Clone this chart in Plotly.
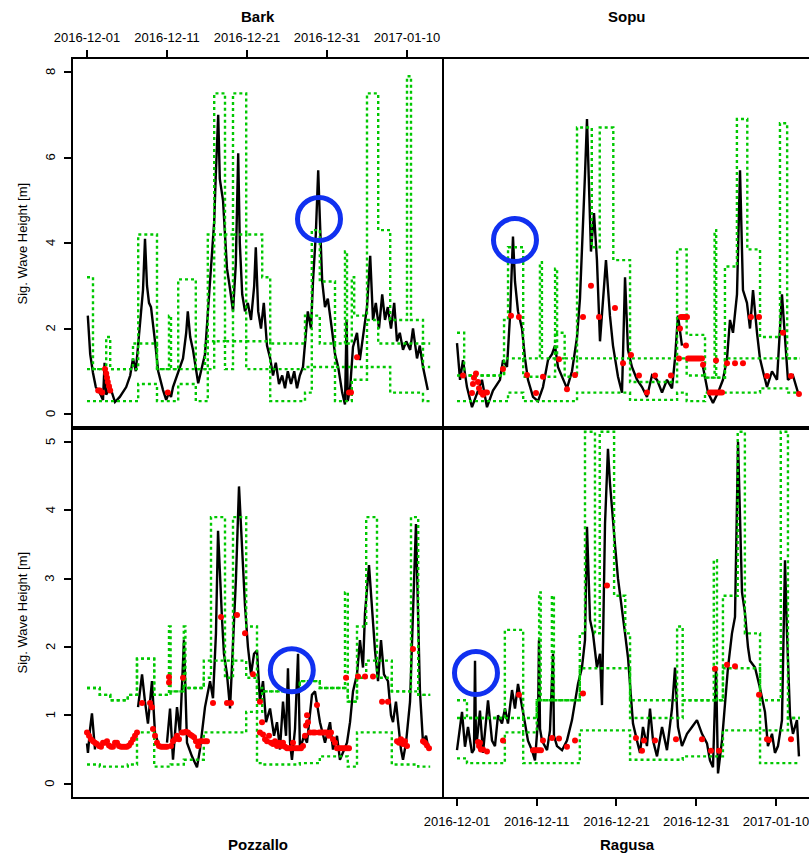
import pandas as pd
import plotly.graph_objects as go

BASE = pd.Timestamp("2016-12-01")

# ---------------- tick labels / names ----------------
date_ticks = ["2016-12-01", "2016-12-11", "2016-12-21", "2016-12-31", "2017-01-10"]
panel_names = ["Bark", "Sopu", "Pozzallo", "Ragusa"]
top_yticks = [0, 2, 4, 6, 8]
bottom_yticks = [0, 1, 2, 3, 4, 5]
y_title = "Sig. Wave Height [m]"

# ---------------- observed Hs (days since 2016-12-01, metres) ----------------
bark_obs = [(0.1,2.3),(0.4,1.4),(0.75,0.96),(1.1,0.63),(1.6,0.49),(2.0,0.33),(2.2,1.2),(2.4,0.45),(2.9,0.63),
            (3.5,0.28),(4.1,0.4),(4.9,0.63),(5.4,0.9),(5.75,1.3),(6.1,1.0),(6.6,2.1),(7.0,2.9),(7.25,4.1),
            (7.5,3.0),(7.75,2.6),(8.0,2.5),(8.5,1.7),(8.9,1.0),(9.5,0.56),(9.9,0.33),(10.25,0.5),(10.5,0.4),
            (10.75,0.63),(11.4,1.0),(12.0,1.3),(12.4,1.9),(12.6,2.4),(12.9,1.8),(13.25,1.5),(13.5,1.2),
            (13.9,0.72),(14.25,1.0),(14.75,1.4),(15.1,2.35),(15.5,3.5),(15.9,4.5),(16.1,5.6),(16.4,7.0),
            (16.6,5.5),(17.0,5.0),(17.25,4.2),(17.5,3.4),(17.9,2.9),(18.25,2.4),(18.6,3.5),(18.9,6.1),
            (19.1,4.0),(19.4,2.8),(19.75,2.4),(20.1,2.6),(20.5,2.2),(20.9,3.0),(21.1,3.9),(21.4,2.4),
            (21.75,2.0),(22.1,2.6),(22.5,1.6),(22.9,1.3),(23.25,0.9),(23.6,1.2),(24.0,0.7),(24.4,0.9),
            (24.75,0.6),(25.1,1.0),(25.5,0.7),(25.9,1.0),(26.25,0.6),(26.6,0.9),(27.0,1.1),(27.25,1.7),
            (27.6,2.4),(28.0,2.0),(28.25,3.1),(28.6,4.2),(28.9,5.7),(29.1,4.6),(29.4,3.1),(29.75,2.5),
            (30.1,2.7),(30.6,2.0),(31.0,1.4),(31.4,1.1),(31.9,0.5),(32.25,0.22),(32.45,2.2),(32.6,0.3),
            (32.9,0.63),(33.25,1.57),(33.75,1.9),(34.1,1.26),(34.5,1.8),(35.0,2.5),(35.4,3.7),(35.75,2.2),
            (36.1,2.6),(36.5,2.0),(36.9,2.8),(37.25,2.2),(37.6,2.5),(38.0,2.0),(38.4,2.6),(38.75,1.7),
            (39.1,1.9),(39.5,1.5),(39.9,1.7),(40.4,1.5),(40.75,2.0),(41.25,1.3),(41.6,1.6),(42.0,1.1),(42.6,0.56)]

sopu_obs = [(0.0,1.66),(0.38,0.8),(0.75,1.26),(1.25,0.63),(1.88,0.16),(2.5,0.5),(3.13,0.8),(3.76,0.16),
            (4.51,0.55),(5.39,0.8),(5.77,1.26),(6.27,1.1),(6.65,2.3),(7.02,4.15),(7.27,3.1),(7.65,2.4),
            (8.15,2.0),(8.53,1.3),(8.9,0.8),(9.53,0.4),(10.16,0.3),(10.78,0.63),(11.41,1.26),(11.91,1.4),
            (12.29,1.6),(12.66,1.1),(13.29,0.8),(13.79,0.6),(14.42,1.0),(15.05,1.8),(15.42,2.7),(15.8,4.3),
            (16.05,5.6),(16.3,6.9),(16.55,5.2),(16.8,3.8),(17.18,4.7),(17.55,3.6),(17.93,1.7),(18.31,2.7),
            (18.68,3.6),(19.18,2.3),(19.56,1.6),(20.19,0.87),(20.69,0.5),(21.07,3.2),(21.44,1.5),(21.94,1.1),
            (22.57,0.8),(23.2,0.63),(23.82,0.4),(24.45,0.9),(25.08,0.8),(25.71,0.5),(26.33,0.8),(26.96,0.6),
            (27.34,1.3),(27.71,2.3),(28.21,1.6),(28.5,None),(30.85,1.1),(31.47,0.5),(32.1,0.26),(32.73,0.5),
            (33.35,0.8),(33.86,1.3),(34.23,2.2),(34.61,1.9),(35.11,2.8),(35.49,5.7),(35.86,2.9),(36.36,2.6),
            (36.74,2.0),(37.12,2.9),(37.62,1.9),(37.99,1.3),(38.37,1.0),(38.87,0.63),(39.5,1.0),(40.13,0.8),
            (40.75,2.8),(41.13,1.7),(41.5,0.8),(42.13,0.9),(42.76,0.5)]

pozzallo_obs = [(0.0,0.59),(0.12,0.45),(0.38,0.8),(0.62,1.03),(1.0,0.5),(1.2,None),(6.38,1.12),(6.88,1.6),
                (7.25,1.2),(7.62,0.88),(8.12,1.5),(8.5,0.74),(8.88,0.6),(9.5,None),(10.0,0.6),(10.38,1.1),
                (10.75,0.35),(11.25,1.12),(11.62,0.74),(12.12,2.1),(12.5,0.6),(13.12,0.4),(13.75,0.24),
                (14.12,0.5),(14.75,1.12),(15.38,1.5),(15.75,1.25),(16.12,2.2),(16.38,3.7),(16.62,3.0),
                (16.88,2.4),(17.12,1.9),(17.5,1.6),(17.88,1.1),(18.25,1.95),(18.62,3.0),(19.0,4.35),
                (19.38,3.4),(19.75,2.6),(20.12,2.0),(20.5,1.6),(20.88,1.9),(21.25,1.95),(21.62,1.2),
                (22.0,1.5),(22.38,0.9),(22.88,1.1),(23.38,0.7),(23.75,0.9),(24.12,0.5),(24.5,1.2),(24.88,0.7),
                (25.12,1.69),(25.38,0.6),(25.62,0.35),(26.0,0.8),(26.38,1.9),(26.62,0.5),(27.12,0.7),
                (27.5,0.6),(28.12,1.3),(28.5,1.35),(29.12,0.9),(29.75,0.6),(30.38,0.9),(30.75,0.5),
                (31.25,0.7),(31.62,0.35),(32.12,0.5),(32.5,0.6),(32.88,0.9),(33.25,1.35),(33.75,1.6),
                (34.12,2.1),(34.5,1.7),(34.75,2.5),(35.25,3.2),(35.62,2.6),(36.0,1.95),(36.38,1.5),
                (36.75,2.1),(37.12,1.6),(37.62,1.5),(38.0,1.0),(38.25,0.9),(38.62,1.2),(38.88,0.9),
                (39.25,0.5),(39.5,0.35),(39.88,0.6),(40.38,1.2),(40.75,2.5),(41.12,3.8),(41.38,2.5),
                (41.62,1.35),(42.0,0.6),(42.38,0.7),(42.62,0.55)]

ragusa_obs = [(0.0,0.49),(0.38,0.83),(0.63,1.05),(1.0,0.54),(1.38,0.83),(1.88,0.45),(2.13,0.5),(2.26,1.8),
              (2.38,0.6),(2.5,0.63),(2.88,1.07),(3.26,0.45),(3.89,1.22),(4.39,0.63),(4.76,0.55),(5.14,1.0),
              (5.64,0.88),(6.02,1.1),(6.39,0.88),(6.9,1.37),(7.27,1.1),(7.65,1.46),(8.15,1.1),(8.53,0.88),
              (8.9,0.63),(9.4,0.49),(9.78,0.34),(10.16,0.93),(10.28,2.1),(10.41,0.8),(10.66,0.63),
              (11.29,0.49),(11.66,0.78),(12.04,1.9),(12.16,0.7),(12.54,0.55),(13.17,0.49),(13.79,0.63),
              (14.42,0.93),(14.8,1.22),(15.17,1.46),(15.67,1.7),(16.05,2.1),(16.3,3.76),(16.68,2.4),
              (17.05,2.2),(17.55,1.7),(17.93,1.9),(18.18,1.15),(18.56,3.8),(18.93,4.9),(19.18,4.4),
              (19.44,4.0),(19.81,3.5),(20.19,3.0),(20.69,2.5),(21.07,2.2),(21.44,1.85),(21.69,1.46),
              (22.07,0.88),(22.57,0.63),(22.95,0.45),(23.32,0.83),(23.82,0.55),(24.2,1.1),(24.58,0.63),
              (25.08,0.4),(25.71,0.83),(26.33,0.49),(26.96,1.1),(27.34,1.7),(27.71,0.83),(28.21,0.55),
              (28.84,0.73),(29.47,0.83),(30.09,0.93),(30.72,0.73),(31.35,0.59),(31.72,0.34),(32.1,0.24),
              (32.48,1.7),(32.73,0.15),(33.23,0.63),(33.61,1.22),(33.98,1.7),(34.48,2.2),(34.86,2.44),
              (35.24,5.0),(35.74,2.8),(36.11,2.5),(36.49,2.0),(36.74,1.8),(37.37,1.7),(37.99,1.4),
              (38.62,1.05),(38.99,0.55),(39.5,0.73),(39.87,0.45),(40.25,0.55),(40.75,0.93),(41.13,3.27),
              (41.38,2.2),(41.76,1.0),(42.13,0.73),(42.63,0.93),(42.88,0.4)]

# ---------------- red points (days, metres) ----------------
bark_red = [(1.4,0.55),(1.6,0.55),(1.9,0.5),(2.25,1.05),(2.4,0.95),(2.5,0.85),(2.6,0.75),(2.75,0.65),
            (2.9,0.55),(10.1,0.5),(32.75,0.5),(33.0,0.5),(33.75,1.33)]

sopu_red = [(0.75,0.9),(1.88,0.49),(2.0,0.7),(2.13,0.85),(2.38,0.95),(2.63,0.75),(2.76,0.6),(3.0,0.5),
            (3.26,0.45),(3.51,0.5),(3.76,0.5),(5.77,1.05),(6.77,2.3),(7.77,2.27),(8.78,0.91),(9.91,0.49),
            (10.78,0.87),(12.79,1.28),(13.79,0.58),(14.8,0.91),(15.8,2.27),(16.8,3.0),(17.81,2.27),
            (19.81,2.48),(20.82,1.19),(21.82,1.38),(22.82,0.9),(23.82,0.5),(24.83,0.9),(26.83,0.9),
            (27.84,1.3),(27.96,2.0),(28.09,2.27),(28.34,2.27),(28.59,2.27),(28.84,2.27),(28.71,1.6),
            (28.97,1.3),(29.22,1.3),(29.47,1.3),(29.72,1.3),(29.97,1.3),(30.22,1.3),(30.47,1.3),(30.72,1.3),
            (30.85,1.15),(31.72,0.5),(31.97,0.5),(32.23,0.5),(32.48,0.5),(32.73,0.5),(32.98,0.5),(33.23,0.5),
            (32.48,1.25),(33.86,1.19),(34.86,1.19),(35.86,1.19),(36.86,2.27),(37.87,2.27),(38.87,0.89),
            (40.88,1.9),(41.88,0.89),(42.88,0.47)]

pozzallo_red = [(0.0,0.75),(0.25,0.7),(0.5,0.65),(0.75,0.62),(1.0,0.6),(1.25,0.58),(1.5,0.55),(1.75,0.54),
                (2.0,0.6),(2.25,0.6),(2.5,0.62),(2.75,0.56),(3.0,0.54),(3.25,0.54),(3.5,0.6),(3.75,0.6),
                (4.0,0.55),(4.25,0.54),(4.5,0.54),(4.75,0.54),(5.0,0.54),(5.25,0.56),(5.5,0.6),(5.75,0.65),
                (6.0,0.7),(6.25,0.75),(6.88,1.18),(7.88,1.18),(8.12,1.12),(8.25,0.8),(8.5,0.7),(8.75,0.6),
                (9.0,0.55),(9.25,0.54),(9.5,0.54),(9.75,0.54),(10.0,0.54),(10.25,1.56),(10.25,1.48),
                (10.5,0.55),(10.75,0.62),(11.0,0.65),(11.25,0.7),(11.5,0.65),(12.0,1.55),(11.88,0.75),
                (12.12,0.75),(12.38,0.76),(12.62,0.75),(12.88,0.72),(13.12,0.7),(13.38,0.68),(13.62,0.62),
                (13.88,0.55),(14.12,0.62),(14.38,0.62),(14.75,0.62),(15.0,0.62),(15.75,1.18),(16.75,2.44),
                (17.5,1.18),(18.0,1.18),(18.75,2.47),(19.75,2.2),(20.75,1.6),(21.62,1.2),(21.88,0.9),
                (21.62,0.75),(22.0,0.72),(22.25,0.65),(22.5,0.62),(22.75,0.7),(23.0,0.6),(23.25,0.58),
                (23.5,0.62),(23.75,0.55),(24.0,0.6),(24.25,0.55),(24.5,0.6),(24.75,0.54),(25.0,0.52),
                (25.25,0.52),(25.5,0.52),(25.75,0.6),(26.0,0.52),(26.25,0.52),(26.5,0.52),(26.75,0.52),
                (27.0,0.55),(27.25,0.7),(27.38,0.85),(27.5,1.0),(27.62,0.9),(27.88,0.75),(28.75,1.15),
                (28.25,0.75),(28.5,0.75),(29.0,0.75),(29.25,0.75),(29.5,0.75),(29.75,0.75),(30.0,0.75),
                (30.25,0.7),(30.5,0.75),(30.75,0.65),(31.0,0.6),(31.25,0.52),(31.5,0.52),(31.75,0.52),
                (32.0,0.52),(32.25,0.52),(32.5,0.52),(32.75,0.52),(32.38,1.55),(33.88,1.57),(34.75,1.57),
                (35.75,1.57),(36.88,1.2),(37.62,1.2),(38.75,0.62),(39.0,0.6),(39.25,0.65),(39.5,0.58),
                (39.75,0.62),(40.0,0.55),(40.75,1.97),(42.0,0.62),(42.25,0.6),(42.5,0.56),(42.75,0.52)]

ragusa_red = [(2.63,0.61),(2.76,0.55),(2.88,0.6),(3.0,0.5),(3.26,0.5),(3.76,0.47),(5.77,0.63),(7.77,1.3),
              (9.53,0.49),(9.78,0.49),(10.03,0.49),(10.28,0.49),(10.53,0.49),(10.78,0.63),(11.91,0.67),
              (12.79,0.66),(13.79,0.54),(14.8,0.63),(15.8,1.32),(18.81,2.9),(22.44,0.67),(23.2,0.48),
              (23.45,0.63),(24.83,0.63),(27.46,0.65),(30.72,0.65),(31.85,0.48),(32.35,1.68),(32.85,0.48),
              (33.86,1.74),(34.86,1.72),(37.87,1.3),(38.87,0.65),(39.12,0.64),(41.88,0.65)]

# ---------------- green step bands: start days (last = end), upper / middle / lower levels ----------------
bark_step_day = [0.0,0.75,2.4,2.9,5.75,6.4,8.75,10.25,10.5,11.4,13.6,14.75,15.1,15.9,17.25,18.25,19.9,21.9,
                 22.9,27.25,28.1,29.1,31.0,32.25,32.5,33.1,33.4,35.0,36.4,37.9,40.0,40.5,42.0,42.9]
bark_up = [3.2,1.05,1.8,1.05,1.05,4.2,1.05,2.3,1.05,3.15,1.05,1.7,4.2,7.5,4.2,7.5,4.2,3.2,1.65,2.3,4.3,3.1,
           1.65,3.8,1.65,3.2,2.3,7.5,4.3,2.2,7.9,2.2,1.65]
bark_mid = [1.05,1.05,1.05,1.05,1.65,1.65,1.05,1.05,1.05,1.05,1.05,1.05,1.7,4.2,1.7,4.2,1.7,1.7,1.05,1.1,2.3,
            1.65,1.1,1.1,1.1,1.1,1.1,2.2,1.65,1.65,1.65,1.65,1.1]
bark_low = [0.3,0.3,0.3,0.3,0.3,0.7,0.3,0.3,0.3,0.7,0.3,0.3,1.05,1.7,1.05,1.7,1.05,1.05,0.3,0.5,1.1,1.1,0.3,
            0.3,0.3,0.8,0.8,1.1,1.1,0.5,0.5,0.5,0.3]

sopu_step_day = [0.0,0.9,5.9,6.4,8.3,10.4,10.65,12.3,12.55,13.5,15.05,16.9,17.9,19.6,21.7,27.6,28.8,31.1,32.3,
                 32.5,33.6,35.1,36.4,38.0,40.5,41.4,43.0]
sopu_up = [1.9,0.9,2.2,3.9,1.3,3.55,1.3,3.4,1.9,1.3,6.7,3.9,6.7,3.6,1.3,3.85,1.85,0.85,4.3,0.85,3.45,6.9,
           3.85,1.8,6.8,1.3]
sopu_mid = [0.9,0.9,1.3,1.3,0.87,0.87,0.87,1.9,1.3,0.87,1.3,1.3,1.3,1.3,0.75,1.3,0.9,0.85,0.85,0.85,1.3,1.3,
            1.3,1.3,1.3,1.3]
sopu_low = [0.3,0.3,0.3,0.5,0.3,0.3,0.3,0.3,0.3,0.3,0.5,0.5,0.5,0.5,0.33,0.5,0.3,0.5,0.5,0.5,0.5,0.5,0.5,
            0.6,0.6,0.5]

pozzallo_step_day = [0.0,1.6,2.9,5.1,6.25,8.4,10.25,10.45,12.1,12.3,14.6,15.5,17.25,18.25,19.9,21.25,21.9,
                     26.6,29.1,32.25,32.6,33.75,34.9,36.25,38.1,40.5,41.4,42.9]
pozzallo_up = [1.4,1.3,1.22,1.3,1.83,1.3,2.3,1.35,2.3,1.4,1.8,3.9,1.8,3.9,2.3,1.4,1.35,1.5,1.4,2.8,1.2,2.3,
               3.9,1.8,1.35,3.9,1.3]
pozzallo_mid = [1.4,1.3,1.22,1.3,1.83,1.3,1.3,1.35,1.4,1.4,1.55,1.8,1.55,1.8,1.55,1.05,1.35,1.5,1.4,1.4,1.2,
                1.55,1.8,1.55,1.35,1.35,1.3]
pozzallo_low = [0.28,0.25,0.25,0.28,0.75,0.25,0.25,0.28,0.35,0.35,0.75,0.75,0.75,0.75,1.05,0.3,0.28,0.3,0.4,
                0.4,0.25,0.75,0.75,0.75,0.28,0.28,0.25]

ragusa_step_day = [0.0,1.25,6.0,8.3,10.0,10.3,10.5,11.9,12.15,15.4,16.05,17.3,17.9,19.7,21.1,21.7,27.6,28.3,
                   32.2,32.6,33.35,35.2,36.1,38.0,40.6,41.5,43.0]
ragusa_up = [1.22,0.96,2.25,0.96,1.22,2.8,1.22,2.75,1.22,2.2,5.15,2.2,5.15,2.75,2.2,1.22,2.3,1.22,3.27,1.22,
             2.75,5.15,2.2,1.22,5.15,0.96]
ragusa_mid = [0.96,0.96,0.96,0.75,1.22,1.22,1.22,1.22,1.22,1.69,1.69,1.69,1.69,1.69,1.69,0.96,0.96,1.22,1.22,
              1.22,1.69,1.69,1.69,0.78,0.78,0.96]
ragusa_low = [0.37,0.3,0.75,0.3,0.3,0.3,0.3,0.3,0.3,0.78,0.78,0.78,0.78,0.78,0.78,0.35,0.35,0.4,0.4,0.4,0.78,
              0.78,0.78,0.3,0.3,0.3]

# ---------------- highlighted events (circled) ----------------
highlight_day = [29.0, 7.27, 25.6, 2.38]
highlight_hs = [4.56, 4.07, 1.66, 1.62]

# ---------------- styling ----------------
GREEN = "#00C800"
BLUE = "#1030F0"
FONT = "Liberation Sans, Arial, Helvetica, sans-serif"


def ts(days):
    return [BASE + pd.Timedelta(days=d) for d in days]


panels = [
    dict(obs=bark_obs, red=bark_red, sd=bark_step_day, bands=(bark_up, bark_mid, bark_low), xa="x", ya="y"),
    dict(obs=sopu_obs, red=sopu_red, sd=sopu_step_day, bands=(sopu_up, sopu_mid, sopu_low), xa="x2", ya="y2"),
    dict(obs=pozzallo_obs, red=pozzallo_red, sd=pozzallo_step_day,
         bands=(pozzallo_up, pozzallo_mid, pozzallo_low), xa="x3", ya="y3"),
    dict(obs=ragusa_obs, red=ragusa_red, sd=ragusa_step_day, bands=(ragusa_up, ragusa_mid, ragusa_low),
         xa="x4", ya="y4"),
]

fig = go.Figure()
for p in panels:
    d = [a for a, b in p["obs"]]
    v = [b for a, b in p["obs"]]
    fig.add_trace(go.Scatter(x=ts(d), y=v, mode="lines", xaxis=p["xa"], yaxis=p["ya"],
                             line=dict(color="black", width=2.4), connectgaps=False, hoverinfo="skip"))
    for lev in p["bands"]:
        fig.add_trace(go.Scatter(x=ts(p["sd"]), y=list(lev) + [lev[-1]], mode="lines", line_shape="hv",
                                 xaxis=p["xa"], yaxis=p["ya"],
                                 line=dict(color=GREEN, width=2.4, dash="dot"), hoverinfo="skip"))
    rd = [a for a, b in p["red"]]
    rv = [b for a, b in p["red"]]
    fig.add_trace(go.Scatter(x=ts(rd), y=rv, mode="markers", xaxis=p["xa"], yaxis=p["ya"],
                             marker=dict(color="#FF0000", size=6, line=dict(width=0)), hoverinfo="skip"))

# layout geometry
W, H = 809, 853
ML, MR, MT, MB = 73, 0, 59, 56
split = (442 - ML) / (W - ML - MR)

left_range = [BASE + pd.Timedelta(days=-1.75), BASE + pd.Timedelta(days=44.375)]
right_range = [BASE + pd.Timedelta(days=-1.881), BASE + pd.Timedelta(days=44.14)]
top_range = [-0.3275, 8.304]
bot_range = [-0.195, 5.205]

common = dict(showgrid=False, zeroline=False, linecolor="black", linewidth=2,
              tickfont=dict(family=FONT, size=13, color="black"), tickcolor="black",
              ticklen=7, tickwidth=1.5, ticklabeloverflow="allow")

tick_dt = [pd.Timestamp(s) for s in date_ticks]

fig.update_layout(
    width=W, height=H, autosize=False,
    margin=dict(l=ML, r=MR, t=MT, b=MB, pad=0),
    paper_bgcolor="white", plot_bgcolor="white", showlegend=False,
    font=dict(family=FONT, size=13, color="black"),
    xaxis=dict(domain=[0, split], anchor="y", type="date", range=left_range, side="top",
               showline=True, mirror=True, ticks="outside", tickmode="array",
               tickvals=tick_dt, ticktext=date_ticks, ticklabelstandoff=3, **common),
    yaxis=dict(domain=[0.5, 1], anchor="x", range=top_range, showline=True, mirror=True,
               ticks="outside", tickmode="array", tickvals=top_yticks, showticklabels=False, **common),
    xaxis2=dict(domain=[split, 1], anchor="y2", type="date", range=right_range, showline=True,
                mirror=True, ticks="", showticklabels=False, **common),
    yaxis2=dict(domain=[0.5, 1], anchor="x2", range=top_range, showline=False, ticks="",
                showticklabels=False, **common),
    xaxis3=dict(domain=[0, split], anchor="y3", type="date", range=left_range, showline=True,
                mirror=True, ticks="", showticklabels=False, **common),
    yaxis3=dict(domain=[0, 0.5], anchor="x3", range=bot_range, showline=True, mirror=True,
                ticks="outside", tickmode="array", tickvals=bottom_yticks, showticklabels=False, **common),
    xaxis4=dict(domain=[split, 1], anchor="y4", type="date", range=right_range, side="bottom",
                showline=True, mirror=True, ticks="outside", tickmode="array",
                tickvals=tick_dt, ticktext=date_ticks, ticklabelstandoff=4, **common),
    yaxis4=dict(domain=[0, 0.5], anchor="x4", range=bot_range, showline=False, ticks="",
                showticklabels=False, **common),
)

# panel titles
pw = W - ML - MR
ph = H - MT - MB
def px_x(x):
    return (x - ML) / pw
def px_y(y):
    return (H - MB - y) / ph

# rotated y tick labels (R style, parallel to the axis)
for ya, vals in (("y", top_yticks), ("y3", bottom_yticks)):
    for v in vals:
        fig.add_annotation(text=str(v), x=px_x(50), y=v, xref="paper", yref=ya, showarrow=False,
                           textangle=-90, xanchor="center", yanchor="middle",
                           font=dict(family=FONT, size=13, color="black"))

title_pos = [(257.5, 16), (627, 16), (257.5, 844), (627, 844)]
for name, (tx, ty) in zip(panel_names, title_pos):
    fig.add_annotation(text=f"<b>{name}</b>", x=px_x(tx), y=px_y(ty), xref="paper", yref="paper",
                       showarrow=False, xanchor="center", yanchor="middle",
                       font=dict(family=FONT, size=15, color="black"))

for ty in (243.5, 612.5):
    fig.add_annotation(text=y_title, x=px_x(22), y=px_y(ty), xref="paper", yref="paper",
                       showarrow=False, textangle=-90, xanchor="center", yanchor="middle",
                       font=dict(family=FONT, size=13, color="black"))

# highlight circles
axes_pairs = [("x", "y"), ("x2", "y2"), ("x3", "y3"), ("x4", "y4")]
R = 21.5
for (xa, ya), hd, hv in zip(axes_pairs, highlight_day, highlight_hs):
    anchor = (BASE + pd.Timedelta(days=hd)).strftime("%Y-%m-%d %H:%M:%S")
    fig.add_shape(type="circle", xref=xa, yref=ya, xsizemode="pixel", ysizemode="pixel",
                  xanchor=anchor, yanchor=hv, x0=-R, x1=R, y0=-R, y1=R,
                  line=dict(color=BLUE, width=5), layer="above")

fig.write_html("out.html")
